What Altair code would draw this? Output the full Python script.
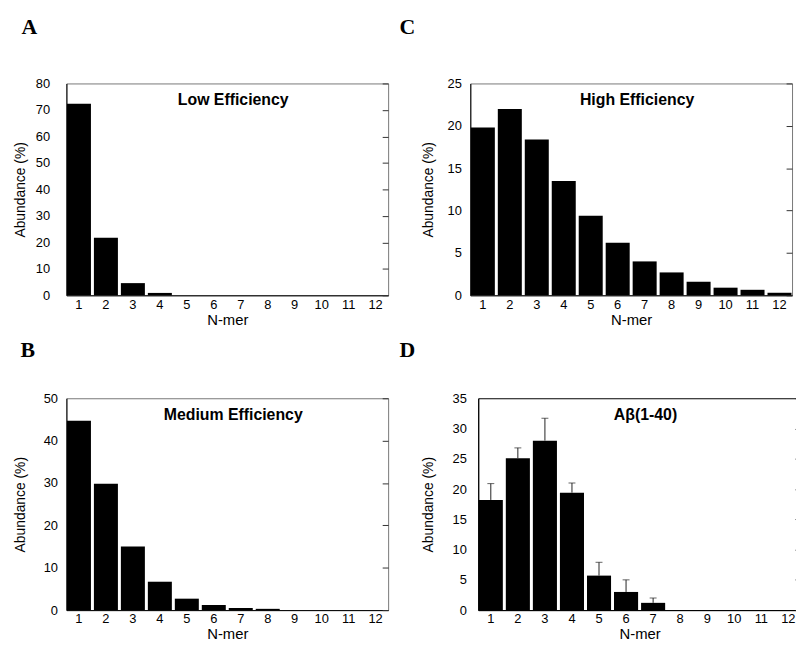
import altair as alt
import pandas as pd

nmer = list(range(1, 13))
low_eff = [72.3, 21.7, 4.6, 0.9, 0, 0, 0, 0, 0, 0, 0, 0]
high_eff = [19.8, 22.0, 18.4, 13.5, 9.4, 6.2, 4.0, 2.7, 1.6, 0.9, 0.65, 0.3]
medium_eff = [44.7, 29.8, 15.0, 6.7, 2.7, 1.2, 0.5, 0.3, 0, 0, 0, 0]
abeta40 = [18.2, 25.1, 28.0, 19.4, 5.7, 3.0, 1.2, 0, 0, 0, 0, 0]
abeta40_err = [2.7, 1.7, 3.7, 1.6, 2.2, 2.0, 0.8, 0, 0, 0, 0, 0]

FONT = "Liberation Sans"
W, H = 325, 214


def panel(values, label, letter, ymax, step, lp, tp, dx, toff, dy, stroke, width=W, errs=None):
    df = pd.DataFrame({"n": nmer, "v": values})
    if errs is not None:
        df["err"] = errs
        df["hi"] = [a + b for a, b in zip(values, errs)]
    ticks = list(range(0, ymax + 1, step))
    x = alt.X("n:O", scale=alt.Scale(paddingInner=0.11, paddingOuter=0.02),
              axis=alt.Axis(title="N-mer", labelAngle=0, ticks=False, domainColor="black",
                            labelPadding=3, titlePadding=1, labelFontSize=13, titleFontSize=15,
                            labelColor="black", titleColor="black", titleFontWeight="normal"))
    yscale = alt.Scale(domain=[0, ymax], nice=False)
    bars = alt.Chart(df).mark_bar(color="black").encode(
        x=x,
        y=alt.Y("v:Q", scale=yscale,
                axis=alt.Axis(title="Abundance (%)", values=ticks, grid=False, ticks=False,
                              domainColor="black", labelPadding=lp, titlePadding=tp,
                              labelFontSize=13, titleFontSize=14, labelColor="black",
                              titleColor="black", titleFontWeight="normal")),
    )
    right = alt.Chart(df).mark_point(opacity=0).encode(
        x=alt.X("n:O"),
        y=alt.Y("v:Q", scale=yscale,
                axis=alt.Axis(orient="right", offset=-6, tickSize=6, domain=False, labels=False,
                              title=None, grid=False, values=ticks, tickColor="#333",
                              minExtent=0, maxExtent=0)),
    )
    layers = [bars]
    if errs is not None:
        edf = alt.Chart(df).transform_filter("datum.err > 0")
        layers.append(edf.mark_rule(color="#222", strokeWidth=1).encode(
            x="n:O", y=alt.Y("v:Q", axis=None), y2="hi:Q"))
        layers.append(edf.mark_tick(color="#222", thickness=1, size=7, orient="horizontal").encode(
            x="n:O", y=alt.Y("hi:Q", axis=None)))
    txt = alt.Chart(pd.DataFrame({"t": [label]})).mark_text(
        font=FONT, fontSize=16, fontWeight="bold", color="black", baseline="alphabetic"
    ).encode(text="t:N", x=alt.value(width / 2 + 6), y=alt.value(22))
    layers.append(txt)
    layers.append(right)
    return alt.layer(*layers).resolve_axis(y="independent").properties(
        width=width, height=H,
        view=alt.ViewBackground(stroke=stroke, strokeWidth=1),
        title=alt.TitleParams(text=letter, anchor="start", frame="bounds", font="Liberation Serif",
                              fontSize=22, fontWeight="bold", color="black", dx=dx, dy=dy, offset=toff),
    )


A = panel(low_eff, "Low Efficiency", "A", 80, 10, 17, 8, 8, 39, 0, "#777")
C = panel(high_eff, "High Efficiency", "C", 25, 5, 9, 12, -22, 39, 0, "#777")
B = panel(medium_eff, "Medium Efficiency", "B", 50, 10, 9, 16, 7, 31, 0, "#777")
D = panel(abeta40, "Aβ(1-40)", "D", 35, 5, 12, 17, -22, 31, 0, "black", width=326, errs=abeta40_err)

chart = alt.vconcat(
    alt.hconcat(A, C, spacing=10),
    alt.hconcat(B, D, spacing=10),
    spacing=10,
).properties(
    padding={"left": 5, "top": 4, "right": -6, "bottom": -3}
).configure(font=FONT).configure_axis(labelFont=FONT, titleFont=FONT)

chart.save("out.html", embed_options={"renderer": "svg", "actions": False})
